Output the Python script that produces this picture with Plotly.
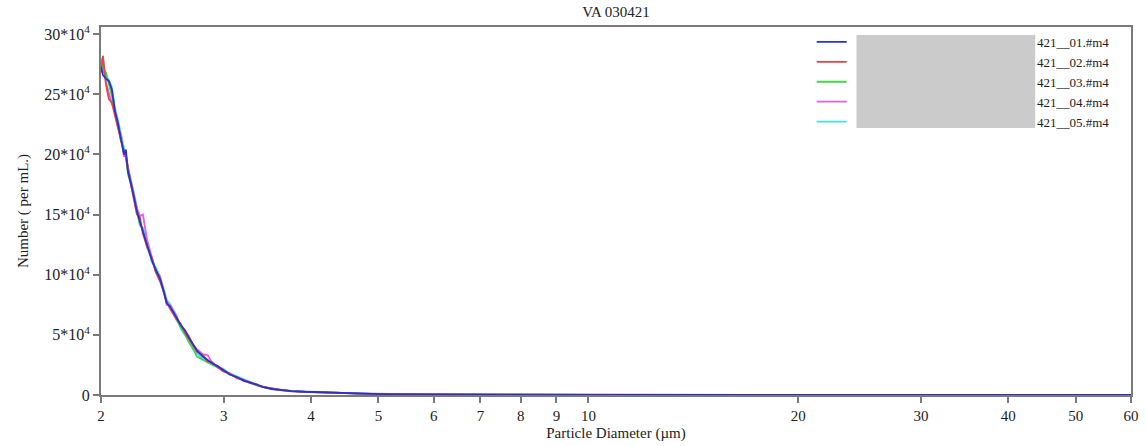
import plotly.graph_objects as go

title_text = "VA 030421"
x_title = "Particle Diameter (µm)"
y_title = "Number ( per mL.)"

diameters = [2.000, 2.013, 2.033, 2.053, 2.073, 2.094, 2.115, 2.134, 2.158, 2.171,
             2.186, 2.208, 2.230, 2.252, 2.274, 2.297, 2.327, 2.366, 2.397, 2.429,
             2.461, 2.485, 2.510, 2.535, 2.568, 2.603, 2.638, 2.672, 2.708, 2.745,
             2.799, 2.845, 2.893, 2.941, 2.989, 3.059, 3.131, 3.204, 3.268, 3.344,
             3.412, 3.514, 3.631, 3.753, 3.918, 4.117, 4.397, 4.697, 5.017, 5.36,
             6.11, 7.45, 10.35, 15.0, 20.0, 30.0, 40.0, 60.0]

# counts in units of 10^4 per mL
s01 = [27.3, 26.6, 26.3, 26.1, 25.4, 23.6, 22.6, 21.5, 20.0, 20.4,
       18.6, 17.6, 16.4, 15.3, 14.4, 13.6, 12.6, 11.2, 10.4, 9.7,
       8.6, 7.6, 7.4, 7.0, 6.4, 5.8, 5.4, 4.8, 4.3, 3.7,
       3.2, 2.9, 2.6, 2.4, 2.1, 1.7, 1.5, 1.2, 1.05, 0.85,
       0.68, 0.5, 0.4, 0.33, 0.27, 0.22, 0.17, 0.12, 0.08, 0.06,
       0.04, 0.02, 0.01, 0.005, 0.003, 0.002, 0.001, 0.0]
s02 = [27.0, 28.2, 25.8, 24.6, 24.3, 23.2, 22.3, 21.3, 20.2, 19.8,
       18.8, 17.4, 16.2, 15.0, 14.8, 13.4, 12.4, 11.4, 10.2, 9.5,
       8.4, 7.8, 7.2, 6.8, 6.3, 5.9, 5.2, 4.7, 4.2, 3.6,
       3.3, 2.8, 2.7, 2.3, 2.0, 1.8, 1.4, 1.25, 1.0, 0.9,
       0.65, 0.52, 0.42, 0.3, 0.28, 0.2, 0.18, 0.11, 0.09, 0.05,
       0.05, 0.02, 0.015, 0.004, 0.004, 0.001, 0.002, 0.0]
s03 = [27.6, 27.2, 26.8, 25.9, 24.9, 23.4, 22.7, 21.2, 20.3, 19.9,
       18.4, 17.5, 16.5, 15.2, 14.2, 13.7, 12.3, 11.3, 10.5, 9.6,
       8.7, 7.7, 7.3, 6.9, 6.2, 5.6, 5.1, 4.4, 3.9, 3.2,
       2.9, 2.7, 2.5, 2.3, 2.1, 1.7, 1.45, 1.2, 1.0, 0.82,
       0.7, 0.48, 0.41, 0.32, 0.26, 0.23, 0.16, 0.13, 0.07, 0.06,
       0.03, 0.025, 0.01, 0.006, 0.002, 0.003, 0.0, 0.0]
s04 = [26.8, 27.9, 26.0, 25.0, 24.2, 23.8, 22.4, 21.6, 19.8, 20.1,
       18.9, 17.8, 16.6, 15.5, 14.9, 15.0, 13.0, 11.5, 10.2, 9.9,
       8.5, 7.5, 7.5, 7.1, 6.5, 5.7, 5.3, 4.9, 4.2, 3.8,
       3.4, 3.3, 2.6, 2.4, 2.0, 1.75, 1.5, 1.15, 1.1, 0.8,
       0.7, 0.52, 0.38, 0.35, 0.25, 0.22, 0.19, 0.1, 0.09, 0.07,
       0.04, 0.03, 0.01, 0.003, 0.005, 0.001, 0.002, 0.0]
s05 = [28.0, 27.0, 26.5, 26.2, 25.6, 23.9, 22.9, 21.8, 20.5, 20.0,
       18.9, 17.8, 16.8, 15.6, 14.1, 13.9, 12.9, 11.0, 10.6, 9.9,
       8.8, 7.9, 7.6, 7.2, 6.6, 5.5, 5.0, 4.5, 3.8, 3.5,
       3.0, 2.8, 2.5, 2.3, 2.2, 1.8, 1.55, 1.3, 1.08, 0.88,
       0.66, 0.55, 0.4, 0.34, 0.29, 0.21, 0.15, 0.12, 0.07, 0.05,
       0.04, 0.02, 0.012, 0.004, 0.003, 0.002, 0.001, 0.0]

series_names = ["421__01.#m4", "421__02.#m4", "421__03.#m4", "421__04.#m4", "421__05.#m4"]
series_values = [s01, s02, s03, s04, s05]
series_colors = ["#2f2fd0", "#e84545", "#45d545", "#e060e8", "#45e0e8"]

x_tickvals = [2, 3, 4, 5, 6, 7, 8, 9, 10, 20, 30, 40, 50, 60]
y_tickvals = [0, 5, 10, 15, 20, 25, 30]
y_ticktext = ["0", "5*10<sup>4</sup>", "10*10<sup>4</sup>", "15*10<sup>4</sup>",
              "20*10<sup>4</sup>", "25*10<sup>4</sup>", "30*10<sup>4</sup>"]

pad = "\u00a0" * 57

fig = go.Figure()
for name, vals, col in reversed(list(zip(series_names, series_values, series_colors))):
    fig.add_trace(go.Scatter(x=diameters, y=vals, mode="lines", name=pad + name,
                             line=dict(color=col, width=1.8)))

font_family = "Liberation Serif"
txt_col = "#222222"
axis_col = "#7a7a7a"

fig.update_layout(
    width=1146, height=446,
    margin=dict(l=101, r=7, t=27, b=51),
    paper_bgcolor="white", plot_bgcolor="white",
    font=dict(family=font_family, size=15, color=txt_col),
    title=dict(text=title_text, x=0.5, xref="paper", xanchor="center", y=0.974, yanchor="middle",
               font=dict(family=font_family, size=15, color=txt_col)),
    showlegend=True,
    legend=dict(x=0.69, y=1.0, xanchor="left", yanchor="top",
                bgcolor="rgba(0,0,0,0)", traceorder="reversed",
                font=dict(family=font_family, size=13, color=txt_col),
                tracegroupgap=0, itemwidth=30),
    xaxis=dict(type="log", range=[0.30103, 1.778151], tickvals=x_tickvals,
               ticktext=[str(v) for v in x_tickvals],
               ticks="outside", ticklen=6, tickwidth=1.5, tickcolor=axis_col,
               showline=True, linecolor=axis_col, linewidth=2, mirror=True,
               showgrid=False, zeroline=False,
               tickfont=dict(family=font_family, size=15, color=txt_col),
               title=dict(text=x_title, standoff=4,
                          font=dict(family=font_family, size=15, color=txt_col))),
    yaxis=dict(range=[0, 30.6], tickvals=y_tickvals, ticktext=y_ticktext,
               ticks="outside", ticklen=6, tickwidth=1.5, tickcolor=axis_col,
               showline=True, linecolor=axis_col, linewidth=2, mirror=True,
               showgrid=False, zeroline=False,
               tickfont=dict(family=font_family, size=16, color=txt_col),
               title=dict(text=y_title, standoff=12,
                          font=dict(family=font_family, size=15, color=txt_col))),
    shapes=[dict(type="rect", xref="paper", yref="paper",
                 x0=0.7335, x1=0.907, y0=0.7255, y1=0.978,
                 fillcolor="#cbcbcb", line=dict(width=0), layer="above")],
)

fig.write_html("out.html")
